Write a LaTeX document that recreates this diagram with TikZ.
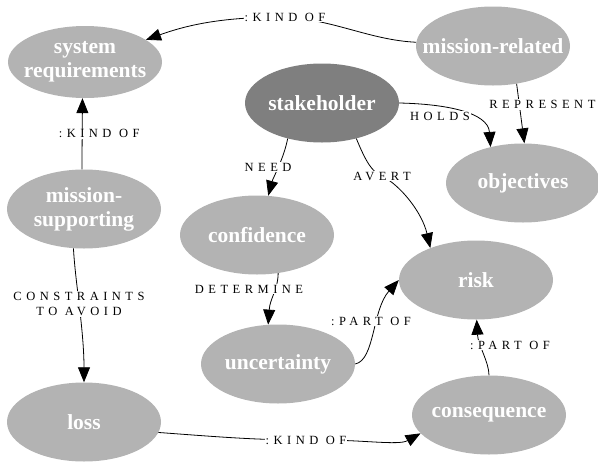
\documentclass[tikz,border=0pt]{standalone}
\usepackage{fontspec}
\setmainfont{Liberation Serif}
\newfontfamily\spacedfont[LetterSpace=36]{Liberation Serif}
\usepackage{tikz}
\usetikzlibrary{shapes.geometric, arrows.meta}
\definecolor{conceptgray}{HTML}{B3B3B3}
\definecolor{hubgray}{HTML}{7F7F7F}
\tikzstyle{concept} = [ellipse, minimum width=154pt, minimum height=79pt, inner xsep=-40pt, inner ysep=-15pt, fill=conceptgray, text=white, font=\fontsize{21.5}{24}\selectfont\bfseries, align=center]
\tikzstyle{hub} = [concept, fill=hubgray]
\tikzstyle{edgelabel} = [font=\spacedfont\fontsize{12.5}{15}\selectfont, fill=white, inner sep=1pt, align=center]
\tikzstyle{arrow} = [line width=0.8pt, -{Triangle[length=15pt,width=12pt]}]

\begin{document}
\begin{tikzpicture}[x=1pt, y=-1pt]
\useasboundingbox (0,0) rectangle (598,464);

\node (sysreq) [concept, minimum height=72pt] at (85,62) {system\\requirements};
\node (mrel) [concept] at (493,46) {mission-related};
\node (stake) [hub] at (322,103) {stakeholder};
\node (obj) [concept] at (523,183) {objectives};
\node (msup) [concept] at (84,209) {mission-\\supporting};
\node (conf) [concept] at (257,235) {confidence};
\node (unc) [concept] at (278,364) {uncertainty};
\node (risk) [concept] at (476,280) {risk};
\node (cons) [concept] at (489,415) {consequence};
\node (loss) [concept] at (84,422) {loss};

\draw [arrow] (mrel) .. controls (370,40) and (335,20) .. (285,17) node[edgelabel] {:KIND OF} .. controls (225,17) and (190,24) .. (sysreq.20);
\draw [arrow] (msup.93) -- node[edgelabel, xshift=17pt] {:KIND OF} (sysreq.266);
\draw [arrow] (stake.east) .. controls (445,104) and (488,112) .. (obj.132) node[edgelabel] at (440,116) {HOLDS};
\draw [arrow] (mrel.302) -- node[edgelabel, pos=0.35, xshift=23pt] {REPRESENT} (obj.88);
\draw [arrow] (stake.226) .. controls (284,158) and (273,178) .. (conf.74) node[edgelabel] at (268,167) {NEED};
\draw [arrow] (stake.314) .. controls (366,162) and (372,172) .. (382,176) node[edgelabel] {AVERT} .. controls (400,185) and (422,212) .. (risk.145);
\draw [arrow] (conf.299) .. controls (278,290) and (270,298) .. (unc.104) node[edgelabel] at (249,289) {DETERMINE};
\draw [arrow] (msup.255) .. controls (75,280) and (84,330) .. (loss.north) node[edgelabel] at (79,304) {CONSTRAINTS\\TO AVOID};
\draw [arrow] (unc.east) .. controls (375,360) and (372,310) .. (risk.west) node[edgelabel] at (371,321) {:PART OF};
\draw [arrow] (cons.north) .. controls (489,362) and (478,345) .. (risk.271) node[edgelabel] at (510,345) {:PART OF};
\draw [arrow] (loss.352) .. controls (220,437) and (255,440) .. (306,440) node[edgelabel] {:KIND OF} .. controls (360,439) and (398,446) .. (cons.195);

\end{tikzpicture}
\end{document}
